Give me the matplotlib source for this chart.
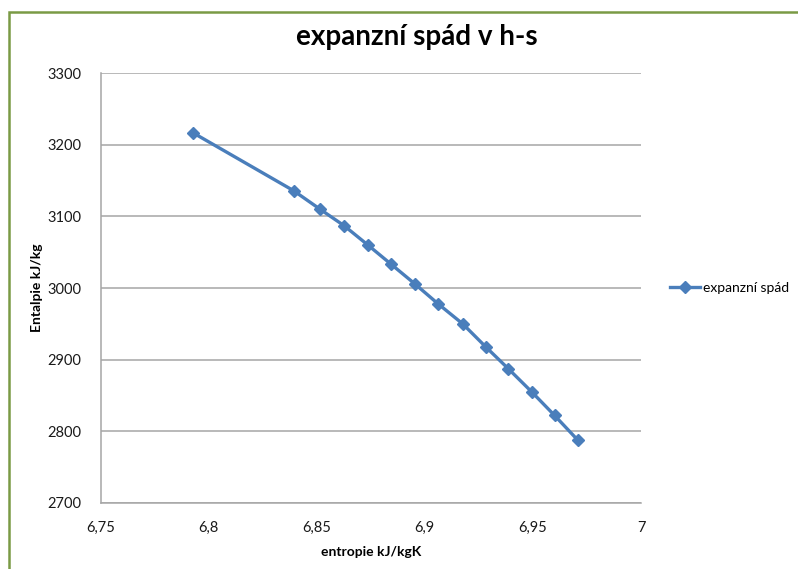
import matplotlib
matplotlib.use("Agg")
import matplotlib.pyplot as plt
from matplotlib.ticker import FuncFormatter, MultipleLocator
from matplotlib.patches import Rectangle

plt.rcParams['font.family'] = ['Lato', 'DejaVu Sans']

# data (entropie kJ/kgK, entalpie kJ/kg)
entropie = [6.7927, 6.8393, 6.8516, 6.8627, 6.8737, 6.8845, 6.8953,
            6.9061, 6.9175, 6.9281, 6.9387, 6.9494, 6.9600, 6.9709]
entalpie = [3217, 3136, 3110, 3087, 3060, 3033, 3006,
            2978, 2950, 2918, 2887, 2855, 2822, 2787]

title = "expanzní spád v h-s"
series_name = "expanzní spád"
xlabel = "entropie kJ/kgK"
ylabel = "Entalpie kJ/kg"

fig = plt.figure(figsize=(7.98, 5.69), dpi=100)

# outer chart frame (Excel style, green border)
frame = Rectangle((9 / 798, -0.05), 1.05, 1 - 12 / 569 + 0.05,
                  transform=fig.transFigure, fill=False,
                  edgecolor='#7a9a45', linewidth=1.8, zorder=0)
fig.patches.append(frame)

ax = fig.add_axes([100.5 / 798, 1 - 502.7 / 569,
                   (641 - 100.5) / 798, (502.7 - 73.3) / 569])

ax.plot(entropie, entalpie, color='#4a7ebb', linewidth=2.4,
        marker='D', markersize=6.5, label=series_name)

ax.set_xlim(6.75, 7)
ax.set_ylim(2700, 3300)
ax.xaxis.set_major_locator(MultipleLocator(0.05))
ax.yaxis.set_major_locator(MultipleLocator(100))
ax.xaxis.set_major_formatter(FuncFormatter(lambda v, p: ('%g' % round(v, 2)).replace('.', ',')))

ax.yaxis.grid(True, color='#a6a6a6', linewidth=1.1)
ax.set_axisbelow(True)
for s in ['top', 'right']:
    ax.spines[s].set_visible(False)
for s in ['left', 'bottom']:
    ax.spines[s].set_color('#a6a6a6')
    ax.spines[s].set_linewidth(1.1)
ax.tick_params(axis='both', length=0, labelsize=10.5, labelcolor='#1a1a1a')
ax.tick_params(axis='y', pad=14)
ax.tick_params(axis='x', pad=13)

fig.text(417 / 798, 1 - 37 / 569, title, fontsize=20, fontweight='bold',
         ha='center', va='center')
ax.set_xlabel(xlabel, fontsize=10, fontweight='bold', labelpad=8)
ax.set_ylabel(ylabel, fontsize=10, fontweight='bold', labelpad=3)

ax.legend(loc='center left', bbox_to_anchor=(1.03, 0.5), frameon=False,
          fontsize=10, handlelength=2.2, handletextpad=0.2)

fig.savefig('out.png', dpi=100)
